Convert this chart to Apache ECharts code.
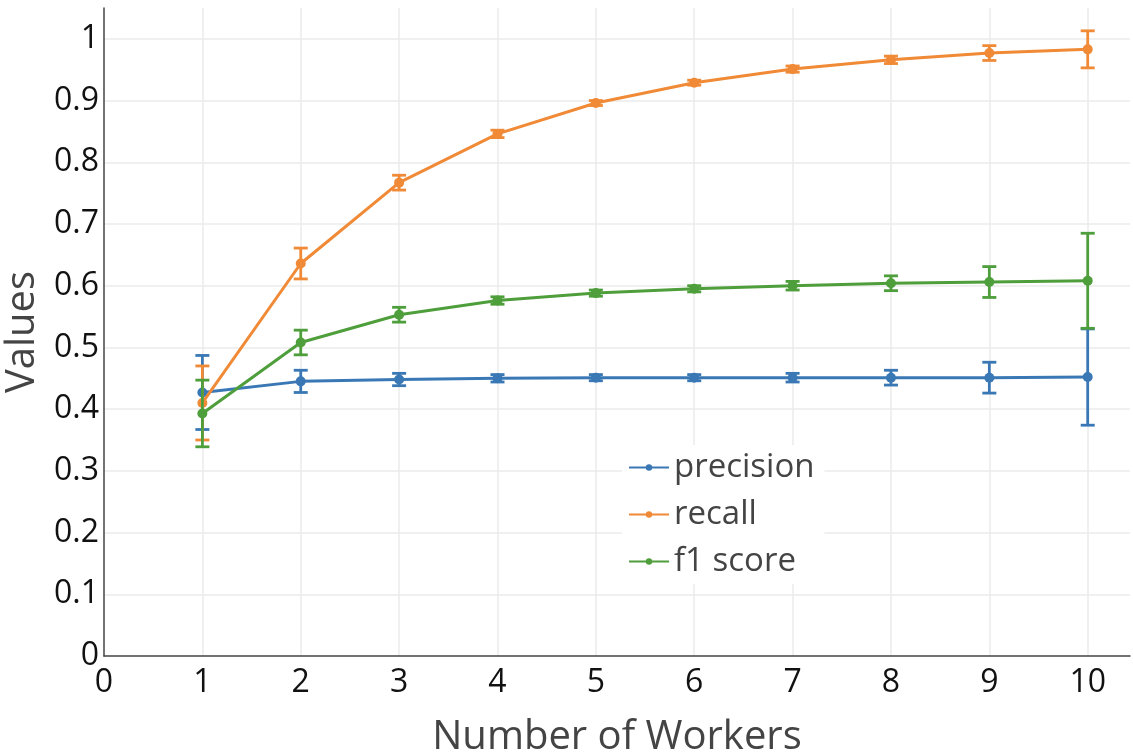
<!DOCTYPE html>
<html>
<head>
<meta charset="utf-8">
<script src="https://cdn.jsdelivr.net/npm/echarts@6/dist/echarts.min.js"></script>
<style>
  html, body { margin: 0; padding: 0; background: #fff; }
  #chart { width: 1133px; height: 755px; }
</style>
</head>
<body>
<div id="chart"></div>
<script>
// Number of workers on the x axis
const workers = [1, 2, 3, 4, 5, 6, 7, 8, 9, 10];

// Mean scores per worker count
const precision = [0.427, 0.445, 0.448, 0.450, 0.451, 0.451, 0.451, 0.451, 0.451, 0.452];
const recall    = [0.410, 0.636, 0.767, 0.846, 0.896, 0.929, 0.951, 0.966, 0.977, 0.983];
const f1score   = [0.393, 0.508, 0.553, 0.576, 0.588, 0.595, 0.600, 0.604, 0.606, 0.608];

// Symmetric error (± half-width) per worker count
const precisionErr = [0.060, 0.018, 0.010, 0.006, 0.005, 0.005, 0.007, 0.012, 0.025, 0.078];
const recallErr    = [0.060, 0.025, 0.012, 0.006, 0.004, 0.004, 0.005, 0.006, 0.012, 0.030];
const f1scoreErr   = [0.054, 0.020, 0.012, 0.006, 0.005, 0.005, 0.007, 0.012, 0.025, 0.077];

const seriesNames = ['precision', 'recall', 'f1 score'];
const colors = ['#3a78b5', '#f08a36', '#4f9e3c'];

const FONT = '"Open Sans", "Noto Sans", sans-serif';

function pairs(ys) {
  return workers.map((x, i) => [x, ys[i]]);
}
function errData(ys, es) {
  return workers.map((x, i) => [x, ys[i] - es[i], ys[i] + es[i]]);
}

// Vertical error bar with horizontal caps, drawn through the axes' coord()
function errorBarSeries(name, ys, es, color, z) {
  return {
    type: 'custom',
    name: name + ' error',
    z: z,
    silent: true,
    data: errData(ys, es),
    encode: { x: 0, y: [1, 2] },
    itemStyle: { color: color },
    renderItem: function (params, api) {
      const x = api.value(0);
      const lo = api.coord([x, api.value(1)]);
      const hi = api.coord([x, api.value(2)]);
      const half = 7;
      const style = { stroke: color, lineWidth: 2.8 };
      return {
        type: 'group',
        children: [
          { type: 'line', shape: { x1: lo[0], y1: lo[1], x2: hi[0], y2: hi[1] }, style: style },
          { type: 'line', shape: { x1: lo[0] - half, y1: lo[1], x2: lo[0] + half, y2: lo[1] }, style: style },
          { type: 'line', shape: { x1: hi[0] - half, y1: hi[1], x2: hi[0] + half, y2: hi[1] }, style: style }
        ]
      };
    }
  };
}

function lineSeries(name, ys, color, z) {
  return {
    type: 'line',
    name: name,
    z: z,
    data: pairs(ys),
    symbol: 'circle',
    symbolSize: 10,
    showSymbol: true,
    itemStyle: { color: color },
    lineStyle: { color: color, width: 3 },
    emphasis: { disabled: true }
  };
}

const chart = echarts.init(document.getElementById('chart'), null, { renderer: 'canvas' });

chart.setOption({
  animation: false,
  backgroundColor: '#ffffff',
  textStyle: { fontFamily: FONT },
  grid: { left: 104, right: 3, top: 8, bottom: 99, containLabel: false, outerBoundsMode: 'none' },
  xAxis: {
    type: 'value',
    min: 0,
    max: 10.43,
    interval: 1,
    name: 'Number of Workers',
    nameLocation: 'middle',
    nameGap: 62,
    nameTextStyle: { fontFamily: FONT, fontSize: 40, color: '#444' },
    axisLine: { show: true, onZero: false, lineStyle: { color: '#444', width: 1.5 } },
    axisTick: { show: false },
    axisLabel: {
      fontFamily: FONT, fontSize: 32, color: '#111', margin: 11,
      formatter: function (v) { return Number.isInteger(v) ? String(v) : ''; }
    },
    splitLine: { show: true, showMaxLine: false, showMinLine: false, lineStyle: { color: '#ebebeb', width: 1.5 } }
  },
  yAxis: {
    type: 'value',
    min: 0,
    max: 1.05,
    interval: 0.1,
    name: 'Values',
    nameLocation: 'middle',
    nameGap: 55,
    nameTextStyle: { fontFamily: FONT, fontSize: 40, color: '#444' },
    axisLine: { show: true, onZero: false, lineStyle: { color: '#444', width: 1.5 } },
    axisTick: { show: false },
    axisLabel: {
      fontFamily: FONT, fontSize: 32, color: '#111', margin: 5,
      padding: [4, 0, 0, 0],
      formatter: function (v) {
        if (v > 1.001) return '';
        return String(Math.round(v * 10) / 10);
      }
    },
    splitLine: { show: true, showMaxLine: false, showMinLine: false, lineStyle: { color: '#ebebeb', width: 1.5 } }
  },
  legend: {
    data: seriesNames,
    left: 622,
    top: 445,
    orient: 'vertical',
    backgroundColor: '#ffffff',
    padding: [6, 10, 6, 6],
    itemGap: 14,
    itemWidth: 40,
    itemHeight: 8,
    textStyle: { fontFamily: FONT, fontSize: 33, color: '#444' }
  },
  series: [
    lineSeries('precision', precision, colors[0], 3),
    lineSeries('recall', recall, colors[1], 5),
    lineSeries('f1 score', f1score, colors[2], 7),
    errorBarSeries('precision', precision, precisionErr, colors[0], 2),
    errorBarSeries('recall', recall, recallErr, colors[1], 4),
    errorBarSeries('f1 score', f1score, f1scoreErr, colors[2], 6)
  ]
});
</script>
</body>
</html>
